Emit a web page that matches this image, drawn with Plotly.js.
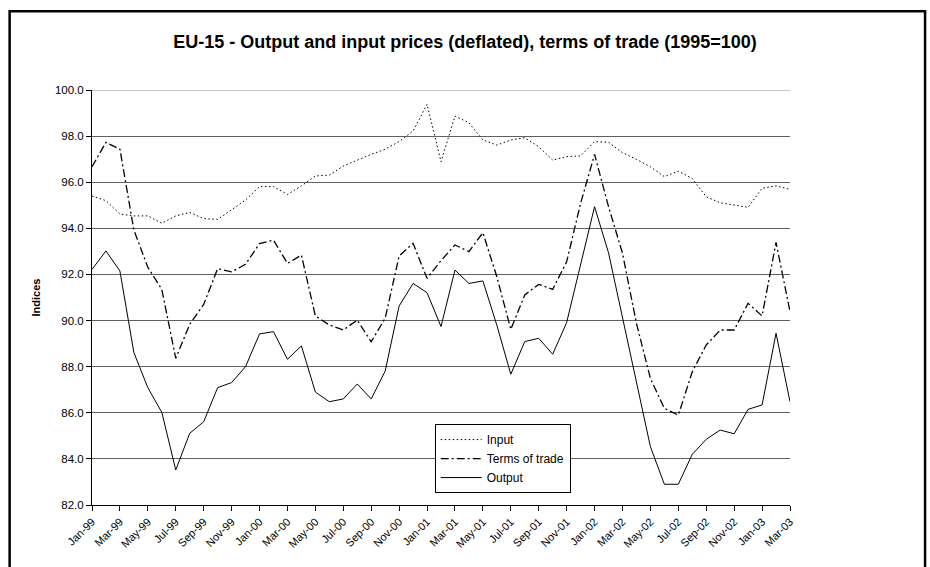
<!DOCTYPE html>
<html>
<head>
<meta charset="utf-8">
<script src="https://cdn.plot.ly/plotly-3.0.1.min.js"></script>
<style>
  html, body { margin: 0; padding: 0; background: #fff; }
  #chart { width: 930px; height: 567px; }
</style>
</head>
<body>
<div id="chart"></div>
<script>
const months = [
  "Jan-99","Feb-99","Mar-99","Apr-99","May-99","Jun-99","Jul-99","Aug-99","Sep-99","Oct-99","Nov-99","Dec-99",
  "Jan-00","Feb-00","Mar-00","Apr-00","May-00","Jun-00","Jul-00","Aug-00","Sep-00","Oct-00","Nov-00","Dec-00",
  "Jan-01","Feb-01","Mar-01","Apr-01","May-01","Jun-01","Jul-01","Aug-01","Sep-01","Oct-01","Nov-01","Dec-01",
  "Jan-02","Feb-02","Mar-02","Apr-02","May-02","Jun-02","Jul-02","Aug-02","Sep-02","Oct-02","Nov-02","Dec-02",
  "Jan-03","Feb-03","Mar-03"
];

const inputPrices = [
  95.40, 95.20, 94.62, 94.54, 94.54, 94.22, 94.54, 94.69, 94.42, 94.39, 94.80, 95.23,
  95.81, 95.81, 95.47, 95.84, 96.27, 96.31, 96.70, 96.96, 97.21, 97.43, 97.76, 98.22,
  99.38, 96.89, 98.87, 98.58, 97.83, 97.61, 97.83, 97.93, 97.54, 96.96, 97.11, 97.14,
  97.76, 97.73, 97.28, 96.99, 96.67, 96.24, 96.48, 96.16, 95.37, 95.11, 95.01, 94.91,
  95.74, 95.84, 95.69
];

const termsOfTrade = [
  96.67, 97.73, 97.43, 93.93, 92.31, 91.35, 88.36, 89.84, 90.70, 92.25, 92.11, 92.44,
  93.34, 93.49, 92.48, 92.84, 90.20, 89.81, 89.59, 90.02, 89.08, 90.10, 92.80, 93.35,
  91.83, 92.60, 93.28, 92.99, 93.81, 91.90, 89.62, 91.11, 91.57, 91.35, 92.55, 95.08,
  97.21, 94.94, 92.92, 89.88, 87.49, 86.19, 85.90, 87.78, 88.94, 89.59, 89.59, 90.75,
  90.20, 93.39, 90.39
];

const outputPrices = [
  92.22, 93.02, 92.15, 88.61, 87.09, 86.02, 83.52, 85.11, 85.61, 87.09, 87.31, 88.00,
  89.42, 89.52, 88.32, 88.90, 86.90, 86.48, 86.60, 87.25, 86.60, 87.81, 90.63, 91.61,
  91.21, 89.74, 92.19, 91.61, 91.72, 89.80, 87.67, 89.09, 89.23, 88.54, 89.91, 92.38,
  94.94, 92.94, 90.10, 87.35, 84.53, 82.90, 82.90, 84.20, 84.85, 85.25, 85.09, 86.15,
  86.34, 89.45, 86.48
];

const tickLabels = months.filter((m, i) => i % 2 === 0);

const FONT = "Arial, 'Liberation Sans', sans-serif";

const traces = [
  { x: months, y: inputPrices, name: "Input", type: "scatter", mode: "lines",
    line: { color: "#000", width: 1, dash: "1.5px,2.5px" } },
  { x: months, y: termsOfTrade, name: "Terms of trade", type: "scatter", mode: "lines",
    line: { color: "#000", width: 1.3, dash: "8px,3px,2px,3px" } },
  { x: months, y: outputPrices, name: "Output", type: "scatter", mode: "lines",
    line: { color: "#000", width: 1 } }
];

const layout = {
  width: 930, height: 567,
  paper_bgcolor: "#fff", plot_bgcolor: "#fff",
  font: { family: FONT, color: "#000", size: 11 },
  margin: { l: 92, r: 140, t: 90, b: 62, pad: 0 },
  showlegend: true,
  title: {
    text: "<b>EU-15 - Output and input prices (deflated), terms of trade (1995=100)</b>",
    font: { family: FONT, size: 18, color: "#000" },
    x: 0.5, xref: "container", xanchor: "center",
    y: 0.926, yref: "container", yanchor: "middle"
  },
  xaxis: {
    type: "category",
    range: [0, months.length - 1],
    tickmode: "array",
    tickvals: tickLabels,
    ticktext: tickLabels,
    tickangle: -45,
    tickfont: { family: FONT, size: 11, color: "#000" },
    ticks: "outside", ticklen: 5, tickcolor: "#000", tickwidth: 1,
    showline: true, linecolor: "#000", linewidth: 1,
    showgrid: false, zeroline: false
  },
  yaxis: {
    range: [82, 100],
    tick0: 82, dtick: 2,
    tickformat: ".1f",
    tickfont: { family: FONT, size: 11.5, color: "#000" },
    ticks: "outside", ticklen: 5, tickcolor: "#000", tickwidth: 1,
    showline: true, linecolor: "#000", linewidth: 1,
    showgrid: true, gridcolor: "#606060", gridwidth: 1,
    zeroline: false,
    title: { text: "<b>Indices</b>", font: { family: FONT, size: 11, color: "#000" }, standoff: 12 }
  },
  legend: {
    x: 0.491, y: 0.195, xanchor: "left", yanchor: "top",
    bgcolor: "#fff", bordercolor: "#000", borderwidth: 1,
    font: { family: FONT, size: 12, color: "#000" },
    tracegroupgap: 0,
    itemwidth: 41
  },
  shapes: [
    { type: "line", xref: "paper", yref: "y", x0: 0, x1: 1, y0: 100, y1: 100,
      line: { color: "#c8c8c8", width: 2 }, layer: "between" },
    { type: "rect", xref: "paper", yref: "paper",
      x0: -0.118, x1: 1.1935, y0: -0.25, y1: 1.19,
      line: { color: "#000", width: 2.5 }, fillcolor: "rgba(0,0,0,0)", layer: "above" }
  ]
};

Plotly.newPlot("chart", traces, layout, { displayModeBar: false, staticPlot: true });
</script>
</body>
</html>
